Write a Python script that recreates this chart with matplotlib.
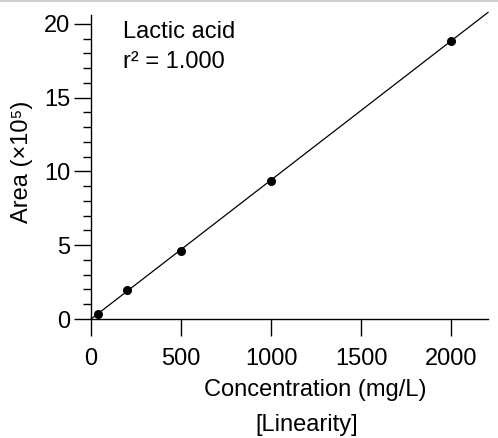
import numpy as np
import matplotlib
matplotlib.use("Agg")
import matplotlib.pyplot as plt
from matplotlib.lines import Line2D

plt.rcParams['font.family'] = ['Liberation Sans', 'DejaVu Sans']
FS = 17

# data
conc = [40, 200, 500, 1000, 2000]          # mg/L
area = [0.36, 1.97, 4.64, 9.38, 18.87]     # x10^5
x_ticks = [0, 500, 1000, 1500, 2000]
y_ticks = [0, 5, 10, 15, 20]

# linear fit
slope, icpt = np.polyfit(conc, area, 1)
xfit = np.array([0, 2205])

fig = plt.figure(figsize=(4.98, 4.38), dpi=100)
ax = fig.add_axes([91/498, 1-319/438, (488-91)/498, (319-15)/438])

ax.plot(xfit, slope*xfit + icpt, color='black', lw=0.9, clip_on=False)
ax.plot(conc, area, 'o', color='black', ms=5.5)

ax.set_xlim(0, 2205)
ax.set_ylim(0, 20.6)
ax.set_xticks(x_ticks)
ax.set_yticks(y_ticks)
ax.set_yticks(np.arange(0, 21, 1), minor=True)
ax.tick_params(axis='both', which='major', length=12, width=1, labelsize=FS, pad=3)
ax.tick_params(axis='y', which='minor', length=6, width=1)
ax.tick_params(axis='x', pad=9)
for s in ['top', 'right']:
    ax.spines[s].set_visible(False)
for s in ['left', 'bottom']:
    ax.spines[s].set_linewidth(1)

fig.text(22/498, 1-162/438, 'Area (×10⁵)', rotation=90, ha='center', va='center', fontsize=FS)
fig.text(315/498, 1-390/438, 'Concentration (mg/L)', ha='center', va='center', fontsize=FS)
fig.text(307/498, 1-425/438, '[Linearity]', ha='center', va='center', fontsize=FS)

fig.text(123/498, 1-32/438, 'Lactic acid', fontsize=FS, va='center')
fig.text(123/498, 1-62/438, 'r² = 1.000', fontsize=FS, va='center')

# thin grey border line at the top of the image
fig.add_artist(Line2D([0, 1], [0.998, 0.998], transform=fig.transFigure, color='#d0d0d0', lw=1.5))

fig.savefig('out.png', dpi=100)
